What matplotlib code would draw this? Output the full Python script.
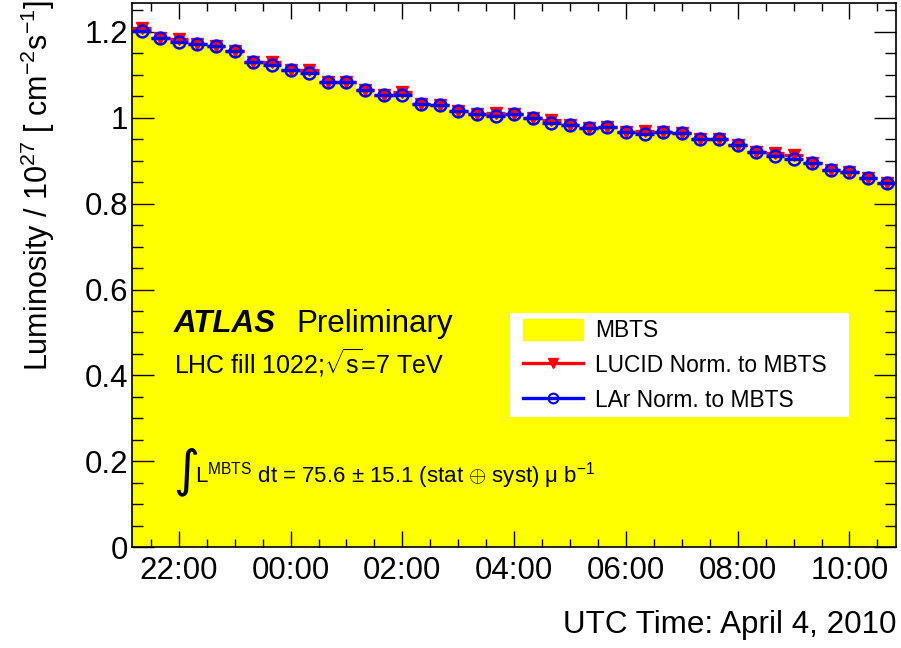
# Luminosity vs time for LHC fill 1022: MBTS histogram with LUCID and LAr overlaid
from matplotlib import pyplot as plt
from matplotlib import dates as mpl_dates
from matplotlib.lines import Line2D
from matplotlib.patches import Patch, Rectangle
from matplotlib.ticker import MultipleLocator, FuncFormatter
import pandas as pd

# Luminosity per 20 min bin, in units of 1e27 cm^-2 s^-1
mbts = [1.202, 1.186, 1.177, 1.171, 1.167, 1.155, 1.130, 1.122, 1.111, 1.104,
        1.084, 1.084, 1.064, 1.053, 1.053, 1.032, 1.029, 1.016, 1.008, 1.004,
        1.008, 1.000, 0.987, 0.983, 0.977, 0.979, 0.967, 0.961, 0.967, 0.964,
        0.950, 0.950, 0.936, 0.919, 0.911, 0.905, 0.894, 0.878, 0.873, 0.859,
        0.849]
lucid = [1.209, 1.186, 1.184, 1.171, 1.166, 1.155, 1.130, 1.129, 1.111, 1.111,
         1.084, 1.084, 1.064, 1.053, 1.060, 1.032, 1.029, 1.016, 1.008, 1.011,
         1.008, 1.000, 0.994, 0.983, 0.977, 0.979, 0.967, 0.968, 0.967, 0.964,
         0.950, 0.950, 0.936, 0.919, 0.918, 0.912, 0.894, 0.878, 0.873, 0.859,
         0.849]
lar = [1.202, 1.186, 1.177, 1.171, 1.167, 1.155, 1.130, 1.122, 1.111, 1.104,
       1.084, 1.084, 1.064, 1.053, 1.053, 1.032, 1.029, 1.016, 1.008, 1.004,
       1.008, 1.000, 0.987, 0.983, 0.977, 0.979, 0.967, 0.961, 0.967, 0.964,
       0.950, 0.950, 0.936, 0.919, 0.911, 0.905, 0.894, 0.878, 0.873, 0.859,
       0.849]
first_edge = '2010-04-03 21:10'
bin_width = '20min'
labels = ['MBTS', 'LUCID Norm. to MBTS', 'LAr Norm. to MBTS']

plt.rcParams['font.family'] = ['Liberation Sans', 'DejaVu Sans']
plt.rcParams['mathtext.fontset'] = 'custom'
plt.rcParams['mathtext.rm'] = 'Liberation Sans'
plt.rcParams['mathtext.it'] = 'Liberation Sans:italic'
plt.rcParams['mathtext.bf'] = 'Liberation Sans:bold'

# bin edges and centres as matplotlib date numbers
edges = pd.date_range(first_edge, periods=len(mbts) + 1, freq=bin_width)
x_edges = mpl_dates.date2num(edges.to_pydatetime())
half = (x_edges[1] - x_edges[0]) / 2
x_c = x_edges[:-1] + half

fig = plt.figure(figsize=(9.01, 6.48), dpi=100)
ax = fig.add_axes([0.1468, 0.1554, 0.8477, 0.84])

ax.stairs(mbts, x_edges, fill=True, color='#ffff00', baseline=0)
ax.errorbar(x_c, lucid, xerr=half, fmt='v', color='red', ms=9, elinewidth=2.4,
            capsize=0, zorder=3)
ax.errorbar(x_c, lar, xerr=half, fmt='o', color='blue', mfc='none', mew=1.8,
            ms=8.5, elinewidth=2.4, capsize=0, zorder=4)

ax.set_xlim(x_edges[0], x_edges[-1])
ax.set_ylim(0, 1.267)

# time axis: labels every 2 h, minor ticks every 30 min
ax.xaxis.set_major_locator(mpl_dates.HourLocator(byhour=range(0, 24, 2)))
ax.xaxis.set_minor_locator(mpl_dates.MinuteLocator(byminute=[0, 30]))
ax.xaxis.set_major_formatter(mpl_dates.DateFormatter('%H:%M'))
ax.yaxis.set_major_locator(MultipleLocator(0.2))
ax.yaxis.set_minor_locator(MultipleLocator(0.05))
ax.yaxis.set_major_formatter(FuncFormatter(lambda v, p: '%g' % round(v, 2)))

ax.tick_params(which='both', direction='in', top=True, right=True, width=1,
               labelsize=22.5)
ax.tick_params(axis='x', which='major', length=11.5, pad=6)
ax.tick_params(axis='x', which='minor', length=5.8)
ax.tick_params(axis='y', which='major', length=15.8, pad=3)
ax.tick_params(axis='y', which='minor', length=7.9)
for s in ax.spines.values():
    s.set_linewidth(1.2)

ax.set_xlabel('UTC Time: April 4, 2010', fontsize=22.6, loc='right')
ax.xaxis.label.set_va('baseline')
ax.xaxis.set_label_coords(1.0, -0.158)
ax.set_ylabel('Luminosity / 10$^{27}$ [ cm$^{-2}$s$^{-1}$]', fontsize=22, loc='top')
ax.yaxis.set_label_coords(-0.098, 1.005)

ax.text(0.0546, 0.396, 'ATLAS', transform=ax.transAxes, fontsize=22.5,
        fontweight='bold', fontstyle='italic', va='baseline')
ax.text(0.2153, 0.396, 'Preliminary', transform=ax.transAxes, fontsize=22.5,
        va='baseline')
ax.text(0.0546, 0.3197, r'LHC fill 1022;$\sqrt{\mathrm{s}}$=7 TeV',
        transform=ax.transAxes, fontsize=18, va='baseline')
ax.text(0.0529, 0.1383, '\u222b', transform=ax.transAxes, fontsize=36,
        family='DejaVu Sans', va='center')
ax.text(0.0823, 0.1187,
        r'L$^{\mathrm{MBTS}}$ dt = 75.6 ± 15.1 (stat $\oplus$ syst) μ b$^{-1}$',
        transform=ax.transAxes, fontsize=16, va='baseline')

# legend: white box drawn separately, entries placed inside it
ax.add_patch(Rectangle((0.4946, 0.240), 0.4439, 0.19, transform=ax.transAxes,
                       facecolor='white', edgecolor='none', zorder=5))
handles = [Patch(facecolor='#ffff00', edgecolor='#ffff00'),
           Line2D([], [], color='red', lw=2.4, marker='v', ms=7),
           Line2D([], [], color='blue', lw=2.4, marker='o', ms=7, mfc='none', mew=1.5)]
leg = ax.legend(handles, labels, loc='upper left', bbox_to_anchor=(0.5116, 0.4200),
                borderaxespad=0, borderpad=0, frameon=False, fontsize=16.4,
                handlelength=2.63, handleheight=1.05, handletextpad=0.53,
                labelspacing=0.52)
leg.set_zorder(6)

plt.savefig('out.png', dpi=100)
